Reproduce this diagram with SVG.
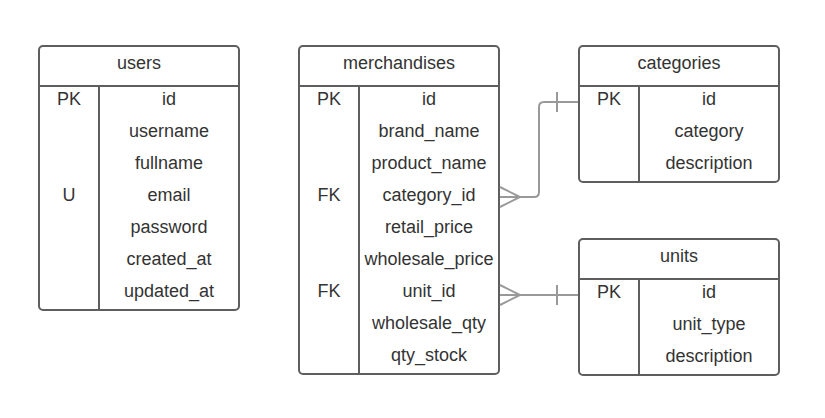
<svg xmlns="http://www.w3.org/2000/svg" width="825" height="418" viewBox="0 0 825 418">
<style>
.box{fill:#fff;stroke:#5e5e5e;stroke-width:2}
.ln{stroke:#5e5e5e;stroke-width:2;fill:none}
.t{font-family:"Liberation Sans",Arial,sans-serif;font-size:18px;fill:#333;text-anchor:middle}
.c{stroke:#999;stroke-width:2;fill:none}
</style>
<rect width="825" height="418" fill="#fff"/>
<g id="users">
<rect class="box" x="39" y="46" width="200" height="264" rx="4"/>
<line class="ln" x1="39" y1="86" x2="239" y2="86"/>
<line class="ln" x1="99" y1="86" x2="99" y2="310"/>
<text class="t" x="139" y="69">users</text>
<text class="t" x="69" y="105">PK</text>
<text class="t" x="69" y="201">U</text>
<text class="t" x="169" y="105">id</text>
<text class="t" x="169" y="137">username</text>
<text class="t" x="169" y="169">fullname</text>
<text class="t" x="169" y="201">email</text>
<text class="t" x="169" y="233">password</text>
<text class="t" x="169" y="265">created_at</text>
<text class="t" x="169" y="297">updated_at</text>
</g>
<g id="merchandises">
<rect class="box" x="299" y="46" width="200" height="328" rx="4"/>
<line class="ln" x1="299" y1="86" x2="499" y2="86"/>
<line class="ln" x1="359" y1="86" x2="359" y2="374"/>
<text class="t" x="399" y="69">merchandises</text>
<text class="t" x="329" y="105">PK</text>
<text class="t" x="329" y="201">FK</text>
<text class="t" x="329" y="297">FK</text>
<text class="t" x="429" y="105">id</text>
<text class="t" x="429" y="137">brand_name</text>
<text class="t" x="429" y="169">product_name</text>
<text class="t" x="429" y="201">category_id</text>
<text class="t" x="429" y="233">retail_price</text>
<text class="t" x="429" y="265">wholesale_price</text>
<text class="t" x="429" y="297">unit_id</text>
<text class="t" x="429" y="329">wholesale_qty</text>
<text class="t" x="429" y="361">qty_stock</text>
</g>
<g id="categories">
<rect class="box" x="579" y="46" width="200" height="136" rx="4"/>
<line class="ln" x1="579" y1="86" x2="779" y2="86"/>
<line class="ln" x1="639" y1="86" x2="639" y2="182"/>
<text class="t" x="679" y="69">categories</text>
<text class="t" x="609" y="105">PK</text>
<text class="t" x="709" y="105">id</text>
<text class="t" x="709" y="137">category</text>
<text class="t" x="709" y="169">description</text>
</g>
<g id="units">
<rect class="box" x="579" y="239" width="200" height="136" rx="4"/>
<line class="ln" x1="579" y1="279" x2="779" y2="279"/>
<line class="ln" x1="639" y1="279" x2="639" y2="375"/>
<text class="t" x="679" y="262">units</text>
<text class="t" x="609" y="298">PK</text>
<text class="t" x="709" y="298">id</text>
<text class="t" x="709" y="330">unit_type</text>
<text class="t" x="709" y="362">description</text>
</g>
<g id="connectors">
<path class="c" d="M500 197 H534 Q539 197 539 192 V107 Q539 102 544 102 H578"/>
<path class="c" d="M500 187 L520 197 L500 207"/>
<line class="c" x1="557" y1="92" x2="557" y2="112"/>
<path class="c" d="M500 295 H578"/>
<path class="c" d="M500 285 L520 295 L500 305"/>
<line class="c" x1="557" y1="285" x2="557" y2="305"/>
</g>
</svg>
